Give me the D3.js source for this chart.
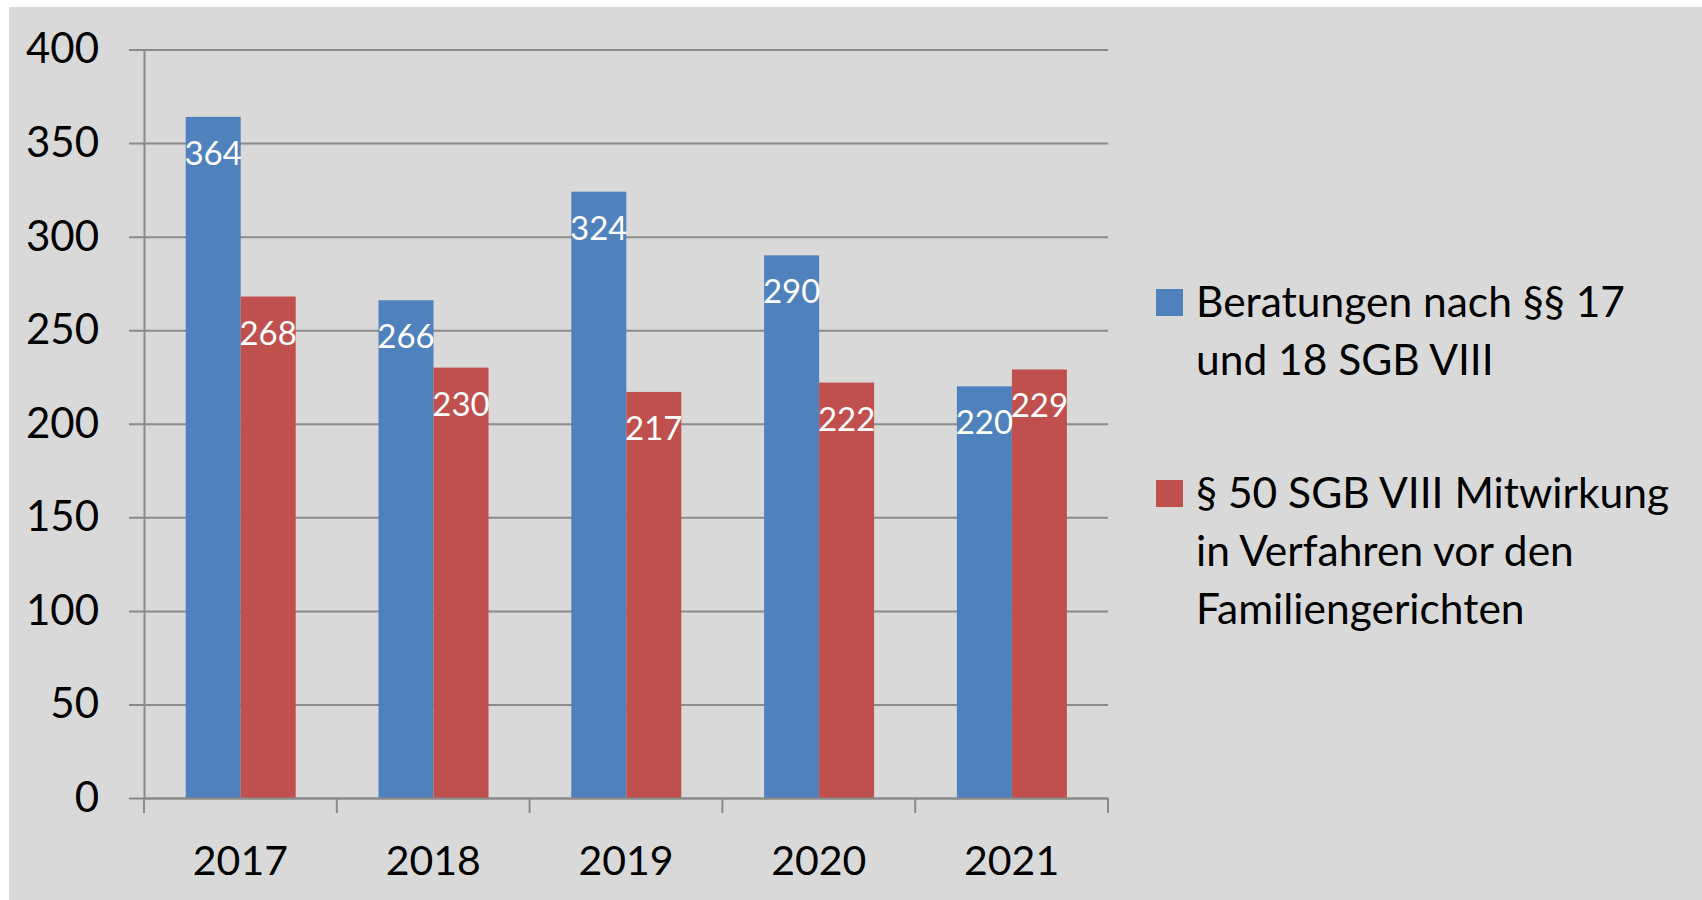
<!DOCTYPE html>
<html>
<head>
<meta charset="utf-8">
<script src="https://cdn.jsdelivr.net/npm/d3@7"></script>
<style>
  body { margin: 0; background: #fff; }
  svg text { font-family: Lato, "Open Sans", sans-serif; }
</style>
</head>
<body>
<script>
/* DATA */
const years = ["2017", "2018", "2019", "2020", "2021"];
const beratungen = [364, 266, 324, 290, 220];
const mitwirkung = [268, 230, 217, 222, 229];
const yTicks = [0, 50, 100, 150, 200, 250, 300, 350, 400];
const legendLines = [
  ["Beratungen nach §§ 17", "und 18 SGB VIII"],
  ["§ 50 SGB VIII Mitwirkung", "in Verfahren vor den", "Familiengerichten"]
];
const colors = ["#4F81BD", "#C0504D"];

/* CONSTANTS */
const width = 1702, height = 900;
const plot = { left: 144, right: 1108, top: 49.5, bottom: 798 };

const svg = d3.select("body").append("svg")
  .attr("width", width)
  .attr("height", height);

// grey chart area
svg.append("rect")
  .attr("x", 9).attr("y", 7)
  .attr("width", width - 9).attr("height", height - 7)
  .attr("fill", "#D9D9D9");

const x0 = d3.scaleBand().domain(years).range([plot.left, plot.right]);
const x1 = d3.scaleBand().domain([0, 1]).range([41.7, 151.7]);
const y = d3.scaleLinear().domain([0, 400]).range([plot.bottom, plot.top]);

// gridlines + y axis
const yAxis = d3.axisLeft(y).tickValues(yTicks)
  .tickSize(-(plot.right - plot.left)).tickSizeOuter(0).tickPadding(30)
  .tickFormat(d3.format("d"));
const gy = svg.append("g")
  .attr("transform", `translate(${plot.left},0)`)
  .call(yAxis);
gy.select(".domain").attr("stroke", "#8a8a8a").attr("stroke-width", 2);
gy.selectAll(".tick line")
  .attr("x1", -15)
  .attr("stroke", "#8a8a8a").attr("stroke-width", 2);
gy.selectAll(".tick text")
  .attr("font-size", 42).attr("fill", "#000")
  .attr("font-family", "Lato, sans-serif")
  .attr("x", -45);

// bars
const rows = years.map((yr, i) => ({ year: yr, vals: [beratungen[i], mitwirkung[i]] }));
const groups = svg.selectAll("g.grp")
  .data(rows).enter().append("g")
  .attr("class", "grp")
  .attr("transform", d => `translate(${x0(d.year)},0)`);

groups.selectAll("rect")
  .data(d => d.vals.map((v, k) => ({ v, k })))
  .enter().append("rect")
  .attr("x", d => x1(d.k))
  .attr("width", x1.bandwidth())
  .attr("y", d => y(d.v))
  .attr("height", d => y(0) - y(d.v))
  .attr("fill", d => colors[d.k]);

groups.selectAll("text")
  .data(d => d.vals.map((v, k) => ({ v, k })))
  .enter().append("text")
  .attr("x", d => x1(d.k) + x1.bandwidth() / 2)
  .attr("y", d => y(d.v) + 48)
  .attr("text-anchor", "middle")
  .attr("font-size", 33)
  .attr("fill", "#fff")
  .text(d => d.v);

// x axis
const xAxis = d3.axisBottom(x0).tickSize(0).tickPadding(0);
const gx = svg.append("g")
  .attr("transform", `translate(0,${plot.bottom})`)
  .call(xAxis);
gx.select(".domain").attr("stroke", "#8a8a8a").attr("stroke-width", 2);
gx.selectAll(".tick text")
  .attr("font-size", 41).attr("fill", "#000")
  .attr("font-family", "Lato, sans-serif")
  .attr("dy", 0).attr("y", 77);
// category separators
gx.selectAll("line.sep")
  .data(years.map(d => x0(d)).concat([plot.right]))
  .enter().append("line")
  .attr("class", "sep")
  .attr("x1", d => d).attr("x2", d => d)
  .attr("y1", 0).attr("y2", 15)
  .attr("stroke", "#8a8a8a").attr("stroke-width", 2);

// legend
const legendTop = [289, 480];
const legend = svg.selectAll("g.leg")
  .data(legendLines).enter().append("g")
  .attr("class", "leg")
  .attr("transform", (d, i) => `translate(1156,${legendTop[i]})`);
legend.append("rect")
  .attr("width", 27).attr("height", 27)
  .attr("fill", (d, i) => colors[i]);
legend.selectAll("text")
  .data(d => d).enter().append("text")
  .attr("x", 40)
  .attr("y", (d, j) => 28 + j * 58)
  .attr("font-size", 42.5)
  .attr("fill", "#000")
  .text(d => d);
</script>
</body>
</html>
